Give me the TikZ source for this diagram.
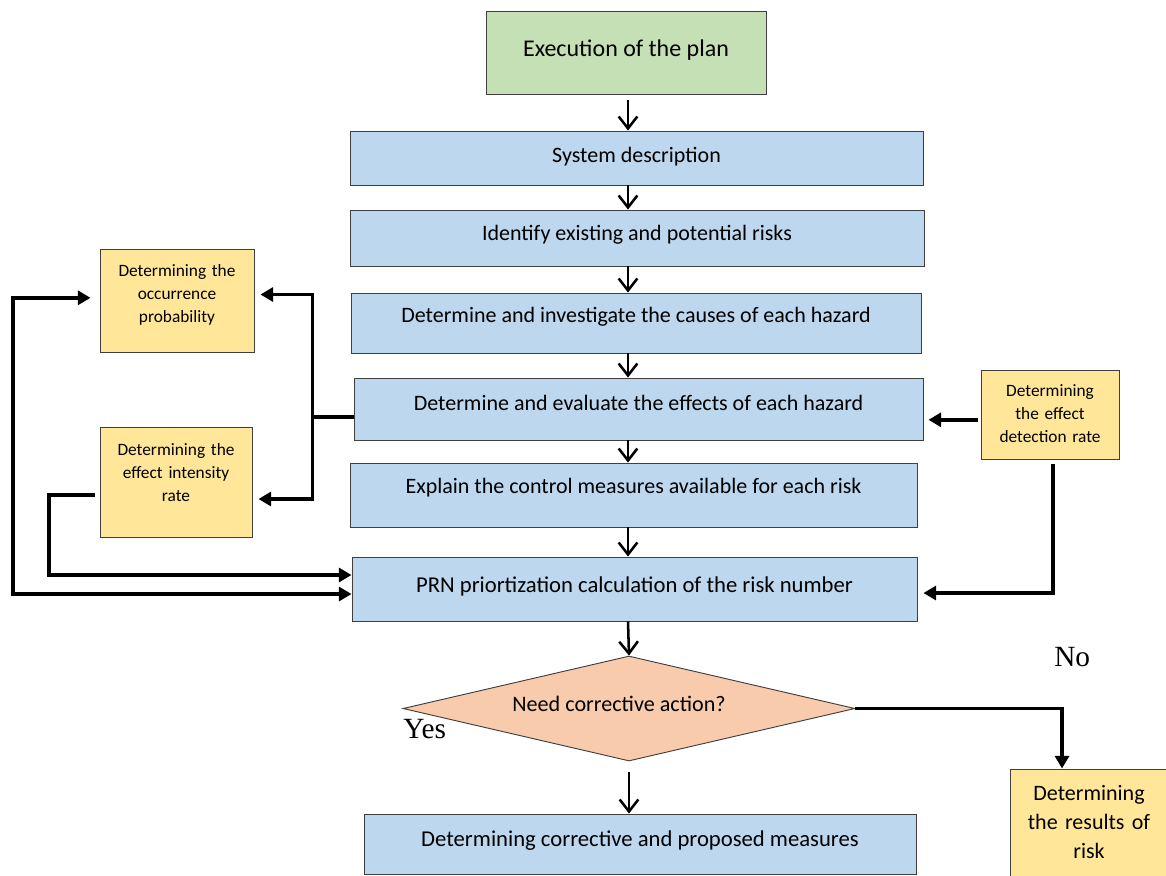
\documentclass[tikz,border=0pt]{standalone}
\usepackage{fontspec}
\setmainfont{Carlito}
\newfontfamily\serifyn{Liberation Serif}
\usetikzlibrary{arrows.meta,shapes.geometric}

\definecolor{planGreen}{HTML}{C5E0B4}
\definecolor{stepBlue}{HTML}{BDD7EE}
\definecolor{noteYellow}{HTML}{FFE699}
\definecolor{askSalmon}{HTML}{F8CBAD}
\definecolor{edgeGray}{HTML}{3F3F3F}

\tikzset{
  box/.style={draw=edgeGray, line width=0.7pt, inner sep=0pt, text height=12pt},
  stepbox/.style={box, fill=stepBlue, font=\fontsize{16.5}{20}\selectfont},
  notebox/.style={box, fill=noteYellow, align=center, text height=9pt, inner xsep=4pt,
    font=\fontsize{13}{17.25}\selectfont},
  flow/.style={line width=1.9pt, -{Straight Barb[length=9pt,width=14pt]}},
  link/.style={line width=2.6pt, >={Triangle[length=9.5pt,width=10.5pt]}, ->},
  yesno/.style={font=\serifyn\fontsize{22}{26}\selectfont, inner sep=0pt}
}

\begin{document}
\begin{tikzpicture}[x=0.75pt, y=-0.75pt]
  \useasboundingbox (0,0) rectangle (1166,875);

  % main column
  \node[box, fill=planGreen, minimum width=210pt, minimum height=62.25pt, text depth=6.4pt,
    font=\fontsize{18}{22}\selectfont] (plan) at (626,52.5) {Execution of the plan};
  \node[stepbox, minimum width=429.75pt, minimum height=40.5pt, text depth=5.2pt] (describe) at (636.5,158) {System description};
  \node[stepbox, minimum width=430.5pt, minimum height=42pt, text depth=8.4pt] (identify) at (637,238) {Identify existing and potential risks};
  \node[stepbox, minimum width=427.5pt, minimum height=45pt, text depth=13.2pt] (causes) at (636,323) {Determine and investigate the causes of each hazard};
  \node[stepbox, minimum width=426.75pt, minimum height=46.5pt, text depth=9.7pt] (effects) at (638.5,409) {Determine and evaluate the effects of each hazard};
  \node[stepbox, minimum width=425.25pt, minimum height=48pt, text depth=14.2pt] (controls) at (633.5,495) {Explain the control measures available for each risk};
  \node[stepbox, minimum width=423.75pt, minimum height=48pt, text depth=6.7pt,
    font=\fontsize{17}{20}\selectfont] (prn) at (634.5,589) {PRN priortization calculation of the risk number};
  \node[box, diamond, aspect=4.3, fill=askSalmon, minimum width=339pt, minimum height=78.75pt, text depth=8.1pt,
    font=\fontsize{16.6}{20}\selectfont] (ask) at (629,708.5) {Need corrective action?\hspace*{15pt}};
  \node[stepbox, minimum width=414pt, minimum height=45pt, text depth=8.6pt,
    font=\fontsize{17}{20}\selectfont] (measures) at (640,844) {Determining corrective and proposed measures};

  % side notes
  \node[notebox, text width=107.5pt, minimum width=115.5pt, minimum height=77.25pt, text depth=44.3pt] (occur) at (177,300.5) {Determining the\\occurrence\\probability};
  \node[notebox, text width=106pt, minimum width=114pt, minimum height=82.5pt, text depth=49.3pt] (severity) at (176,482) {Determining the\\effect intensity\\rate};
  \node[notebox, text width=95.5pt, minimum width=103.5pt, minimum height=66.75pt, text depth=36.6pt] (detect) at (1050,414.5) {Determining\\the effect\\detection rate};
  \node[notebox, text width=110.5pt, minimum width=118.5pt, minimum height=83.25pt, text height=12pt, text depth=47.7pt,
    font=\fontsize{16.5}{21.75}\selectfont] (result) at (1089,824.5) {Determining\\the results of\\risk};

  \node[yesno, anchor=base west] (yes) at (403,738) {Yes};
  \node[yesno, anchor=base west] (no) at (1054,666) {No};

  % arrows down the column
  \coordinate (spine) at (628,0);
  \draw[flow, shorten <=4.5pt] (plan.south -| spine) -- (describe.north -| spine);
  \foreach \a/\b in {describe/identify, identify/causes, causes/effects, effects/controls, controls/prn} {
    \draw[flow] (\a.south -| spine) -- (\b.north -| spine);
  }
  \draw[flow] (prn.south -| spine) -- (ask.north);
  \draw[flow, shorten <=8pt] (ask.south) -- (measures.north -| ask.south);

  % left side
  \coordinate (fork) at ([xshift=-30.75pt,yshift=-6pt]effects.west);
  \draw[line width=2.6pt] ([yshift=-6pt]effects.west) -- (fork);
  \draw[link, shorten >=4.5pt] (fork) |- ([yshift=4.5pt]occur.east);
  \draw[link, shorten >=4.5pt] (fork) |- ([yshift=-12.75pt]severity.east);

  \coordinate (sevout) at ([xshift=-3.75pt,yshift=-9.75pt]severity.west);
  \coordinate (innerx) at (49,540);
  \coordinate (prnin) at ([yshift=10.5pt]prn.west);
  \draw[link] (sevout) -| (innerx) |- (prnin);

  \coordinate (outerx) at (13,450);
  \coordinate (occin) at ([xshift=-6.75pt,yshift=2pt]occur.west);
  \coordinate (prnlow) at ([yshift=-3.75pt]prn.west);
  \draw[link, <->] (prnlow) -| (outerx) |- (occin);

  % right side
  \coordinate (detout) at ([xshift=-2pt,yshift=-4pt]detect.west);
  \draw[link, shorten >=3.75pt] (detout) -- (detout -| effects.east);
  \draw[link, shorten <=3.75pt, shorten >=4.5pt] ([xshift=2.25pt]detect.south) |- ([yshift=-3pt]prn.east);
  \draw[link] (ask.east) -| ([xshift=-20.25pt]result.north);
\end{tikzpicture}
\end{document}
